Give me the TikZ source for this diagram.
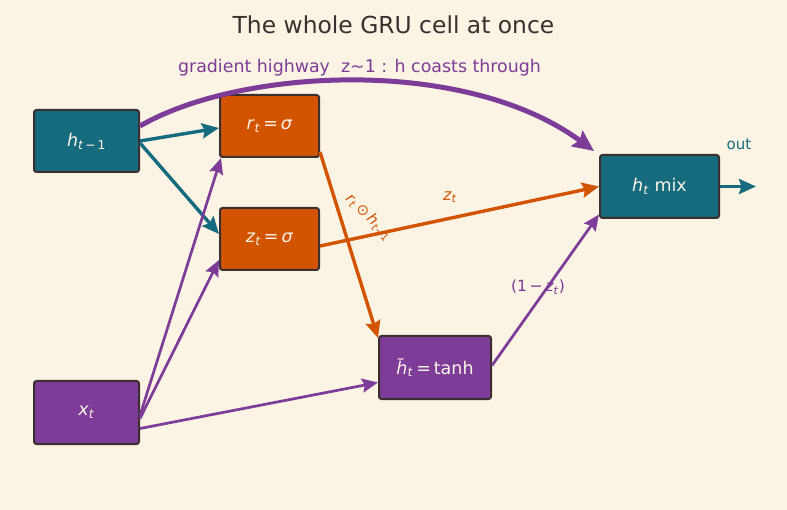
\documentclass[tikz,border=0pt]{standalone}
\usepackage{fontspec}
\setmainfont{DejaVu Sans}
\usetikzlibrary{arrows.meta}
\definecolor{bg}{HTML}{FBF3E4}
\definecolor{teal}{HTML}{176B7E}
\definecolor{orng}{HTML}{D35400}
\definecolor{purp}{HTML}{7D3C98}
\definecolor{edge}{HTML}{3A3030}
\definecolor{boxtxt}{HTML}{FBF3E4}
\newcommand{\mi}[1]{\textit{#1}}
\newcommand{\sbs}[1]{\textsubscript{#1}}
\tikzset{
  box/.style={draw=edge, line width=2pt, rounded corners=2.5pt, text=boxtxt, font=\fontsize{17.5}{20}\selectfont, inner sep=0pt},
  tealbox/.style={box, fill=teal},
  orngbox/.style={box, fill=orng},
  purpbox/.style={box, fill=purp},
  arr/.style={-{Stealth[length=17pt,width=15pt,inset=2.5pt]}},
  tealarr/.style={arr, draw=teal, line width=3.4pt},
  orngarr/.style={arr, draw=orng, line width=3.4pt},
  purparr/.style={-{Stealth[length=16pt,width=14pt,inset=2.5pt]}, draw=purp, line width=2.7pt},
  lbl/.style={font=\fontsize{16}{19}\selectfont}
}
\begin{document}
\begin{tikzpicture}[x=1pt,y=-1pt]
\fill[bg] (0,0) rectangle (787,510);
\useasboundingbox (0,0) rectangle (787,510);

\node[text=edge, font=\fontsize{23.4}{27}\selectfont] (title) at (393.5,25) {The whole GRU cell at once};
\node[text=purp, font=\fontsize{17.4}{20}\selectfont] (hw) at (359.5,68) {gradient highway\ \ z\textasciitilde 1 : h coasts through};

\node[tealbox, minimum width=105pt, minimum height=62pt] (hprev) at (86.5,141) {\mi{h}\sbs{\mi{t}\,−\,1}};
\node[orngbox, minimum width=99pt, minimum height=62pt] (r) at (269.5,126) {\mi{r}\sbs{\mi{t}}\,=\,\mi{σ}};
\node[orngbox, minimum width=99pt, minimum height=62pt] (z) at (269.5,239) {\mi{z}\sbs{\mi{t}}\,=\,\mi{σ}};
\node[purpbox, minimum width=112pt, minimum height=63pt] (ht) at (435,367.5) {\mi{h̃}\sbs{\mi{t}}\,=\,tanh};
\node[tealbox, minimum width=119pt, minimum height=63pt] (hmix) at (659.5,186.5) {\mi{h}\sbs{\mi{t}} mix};
\node[purpbox, minimum width=105pt, minimum height=63pt] (x) at (86.5,412.5) {\mi{x}\sbs{\mi{t}}};
\coordinate (outend) at (756,186.5);

% highway
\draw[-{Stealth[length=21pt,width=19pt,inset=3pt]}, draw=purp, line width=5pt]
  ([yshift=15pt]hprev.east) .. controls (240,68) and (465,56) .. ([xshift=-5pt,yshift=3pt]hmix.north west);

\draw[tealarr] ([yshift=0pt]hprev.east) -- ([yshift=-2pt]r.west);
\draw[tealarr] ([yshift=-2pt]hprev.east) -- ([yshift=5pt]z.west);

\draw[purparr] ([yshift=-3pt]x.east) -- ([xshift=2pt]r.south west);
\draw[purparr] ([yshift=-6pt]x.east) -- ([yshift=-21pt]z.west);
\draw[purparr] ([yshift=-16pt]x.east) -- ([yshift=-15pt]ht.west);

\draw[orngarr] ([yshift=-26pt]r.east) -- ([yshift=-3pt]ht.north west);
\node[lbl, text=orng, font=\fontsize{15}{18}\selectfont, rotate=-45] (rlab) at (369,217) {\mi{r}\sbs{\mi{t}}\,⊙\,\mi{h}\sbs{\mi{t}−1}};

\draw[orngarr] ([yshift=-7pt]z.east) -- ([yshift=0pt]hmix.west);
\node[lbl, text=orng] (zlab) at (450,197) {\mi{z}\sbs{\mi{t}}};

\draw[purparr] ([yshift=2pt]ht.east) -- ([yshift=-28pt]hmix.west);
\node[lbl, text=purp, font=\fontsize{15.5}{18}\selectfont] (omz) at (538,287) {(1\,−\,\mi{z}\sbs{\mi{t}})};

\draw[tealarr] (hmix.east) -- (outend);
\node[text=teal, font=\fontsize{15}{18}\selectfont] (outlab) at (739,144) {out};
\end{tikzpicture}
\end{document}
